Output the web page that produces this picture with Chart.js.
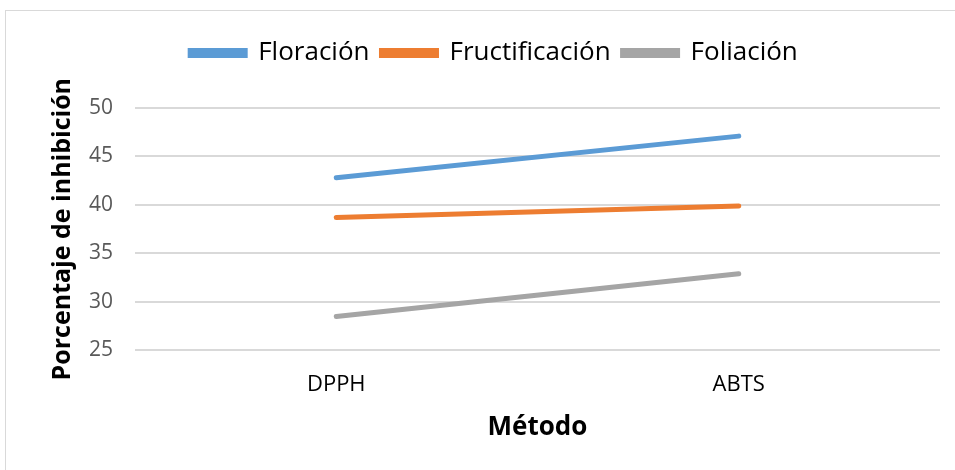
<!DOCTYPE html>
<html>
<head>
<meta charset="utf-8">
<script src="https://cdn.jsdelivr.net/npm/chart.js@4"></script>
<style>
  html, body { margin: 0; padding: 0; background: #fff; }
  #wrap { position: absolute; left: 0; top: 0; width: 955px; height: 470px; }
  #frame { position: absolute; left: 5px; top: 10px; width: 960px; height: 470px; border: 1px solid #d9d9d9; }
</style>
</head>
<body>
<div id="frame"></div>
<div id="wrap"><canvas id="chart" width="955" height="470"></canvas></div>
<script>
const METODOS = ["DPPH", "ABTS"];
const FLORACION = [42.8, 47.1];
const FRUCTIFICACION = [38.7, 39.9];
const FOLIACION = [28.5, 32.9];

const FONT = "'Open Sans', 'Liberation Sans', sans-serif";

// extra room under the legend
const legendMargin = {
  id: "legendMargin",
  beforeInit(chart) {
    const fit = chart.legend.fit;
    chart.legend.fit = function () {
      fit.bind(chart.legend)();
      this.height += 32;
    };
  },
};

const ctx = document.getElementById("chart").getContext("2d");

new Chart(ctx, {
  type: "line",
  data: {
    labels: METODOS,
    datasets: [
      { label: "Floración", data: FLORACION, borderColor: "#5b9bd5", backgroundColor: "#5b9bd5" },
      { label: "Fructificación", data: FRUCTIFICACION, borderColor: "#ed7d31", backgroundColor: "#ed7d31" },
      { label: "Foliación", data: FOLIACION, borderColor: "#a5a5a5", backgroundColor: "#a5a5a5" },
    ],
  },
  plugins: [legendMargin],
  options: {
    responsive: false,
    animation: false,
    layout: { padding: { left: 48, right: 15, top: 28, bottom: 27 } },
    elements: {
      line: { borderWidth: 5, borderCapStyle: "round", tension: 0 },
      point: { radius: 0 },
    },
    plugins: {
      tooltip: { enabled: false },
      legend: {
        position: "top",
        labels: {
          boxWidth: 55,
          boxHeight: 5,
          padding: 12,
          color: "#000",
          font: { family: FONT, size: 26 },
        },
      },
    },
    scales: {
      x: {
        offset: true,
        grid: { display: false, drawTicks: false },
        border: { display: false },
        ticks: { color: "#000", font: { family: FONT, size: 22 }, padding: 21 },
        title: {
          display: true,
          text: "Método",
          color: "#000",
          font: { family: FONT, size: 26, weight: "bold" },
          padding: { top: -7, bottom: 0 },
        },
      },
      y: {
        min: 25,
        max: 50,
        ticks: { stepSize: 5, color: "#595959", font: { family: FONT, size: 21 }, padding: 22 },
        grid: { color: "#d9d9d9", lineWidth: 2, drawTicks: false },
        border: { display: false },
        title: {
          display: true,
          text: "Porcentaje de inhibición",
          color: "#000",
          font: { family: FONT, size: 25, weight: "bold" },
          padding: { top: 0, bottom: -11 },
        },
      },
    },
  },
});
</script>
</body>
</html>
